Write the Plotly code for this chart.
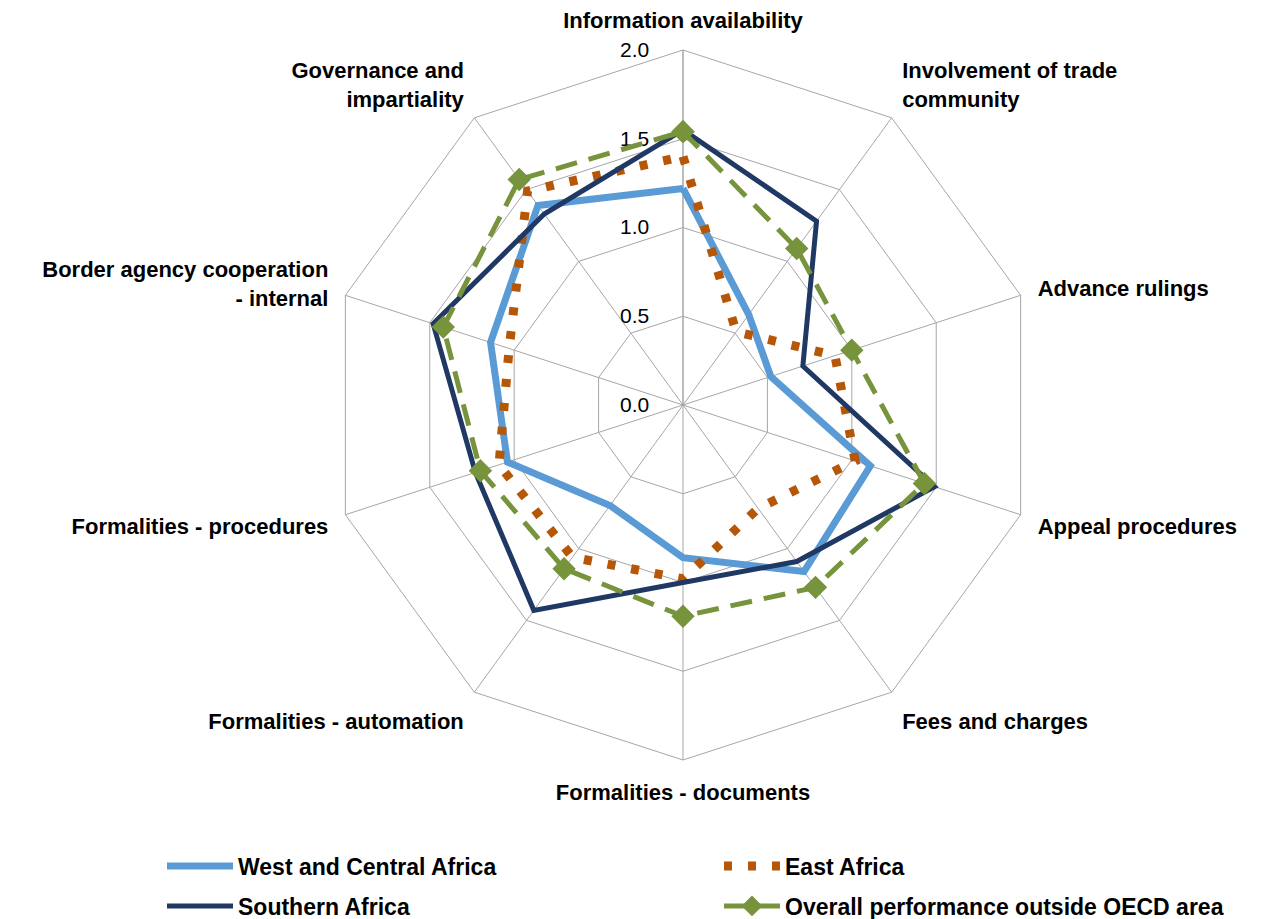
import plotly.graph_objects as go

categories = [
    "Information availability",
    "Involvement of trade<br>community",
    "Advance rulings",
    "Appeal procedures",
    "Fees and charges",
    "Formalities - documents",
    "Formalities - automation",
    "Formalities - procedures",
    "Border agency cooperation<br>- internal",
    "Governance and<br>impartiality",
]

west_central = [1.22, 0.63, 0.52, 1.11, 1.16, 0.86, 0.70, 1.04, 1.14, 1.39]
east = [1.40, 0.51, 0.90, 1.02, 0.72, 0.98, 1.06, 1.09, 1.03, 1.49]
southern = [1.55, 1.28, 0.71, 1.49, 1.09, 1.00, 1.43, 1.23, 1.48, 1.33]
overall = [1.54, 1.09, 1.00, 1.43, 1.27, 1.19, 1.14, 1.20, 1.42, 1.57]

radial_ticks = [0.0, 0.5, 1.0, 1.5, 2.0]


def closed(v):
    return v + v[:1]


theta = closed(categories)

fig = go.Figure()
fig.add_trace(go.Scatterpolar(
    r=closed(west_central), theta=theta, mode="lines",
    name="West and Central Africa", legend="legend",
    line=dict(color="#5b9bd5", width=7),
))
fig.add_trace(go.Scatterpolar(
    r=closed(east), theta=theta, mode="lines",
    name="East Africa", legend="legend2",
    line=dict(color="#b65708", width=9, dash="8px,16px"),
))
fig.add_trace(go.Scatterpolar(
    r=closed(southern), theta=theta, mode="lines",
    name="Southern Africa", legend="legend3",
    line=dict(color="#1f3864", width=5),
))
fig.add_trace(go.Scatterpolar(
    r=closed(overall), theta=theta, mode="lines+markers",
    name="Overall performance outside OECD area", legend="legend4",
    line=dict(color="#77933c", width=5, dash="22px,12px"),
    marker=dict(symbol="diamond", size=18, color="#77933c"),
))

W, H = 1263, 919
cx, cy, R = 683, 405, 355


def leg(x, y, iw):
    return dict(
        orientation="h", x=x / W, y=1 - y / H, xanchor="left", yanchor="middle",
        font=dict(size=23, color="#000000", weight="bold"),
        itemwidth=iw, bgcolor="rgba(0,0,0,0)",
    )


fig.update_layout(
    width=W, height=H,
    margin=dict(l=0, r=0, t=0, b=0, pad=0, autoexpand=False),
    paper_bgcolor="white",
    plot_bgcolor="white",
    font=dict(family="Liberation Sans, Arial, sans-serif", size=21, color="#000000"),
    polar=dict(
        domain=dict(x=[(cx - R) / W, (cx + R) / W],
                    y=[(H - cy - R) / H, (H - cy + R) / H]),
        bgcolor="white",
        gridshape="linear",
        angularaxis=dict(
            rotation=90, direction="clockwise",
            showgrid=True, gridcolor="#a6a6a6", gridwidth=1,
            showline=True, linecolor="#a6a6a6", linewidth=1,
            ticks="outside", ticklen=13, tickcolor="rgba(0,0,0,0)",
            tickfont=dict(size=22, color="#000000", weight="bold"),
        ),
        radialaxis=dict(
            range=[0, 2], tickvals=radial_ticks, tickformat=".1f",
            angle=90, tickangle=90, side="counterclockwise",
            showgrid=True, gridcolor="#a6a6a6", gridwidth=1,
            showline=True, linecolor="#a6a6a6", linewidth=1,
            ticks="outside", ticklen=26, tickcolor="rgba(0,0,0,0)",
            tickfont=dict(size=21, color="#000000"),
            layer="below traces",
        ),
    ),
    showlegend=True,
    legend=leg(162, 866, 66),
    legend2=leg(719, 866, 56),
    legend3=leg(162, 906, 66),
    legend4=leg(719, 906, 56),
)

fig.write_html(
    "out.html",
    config={"displayModeBar": False},
    post_script="document.body.style.margin='0';document.body.style.overflow='hidden';",
)
